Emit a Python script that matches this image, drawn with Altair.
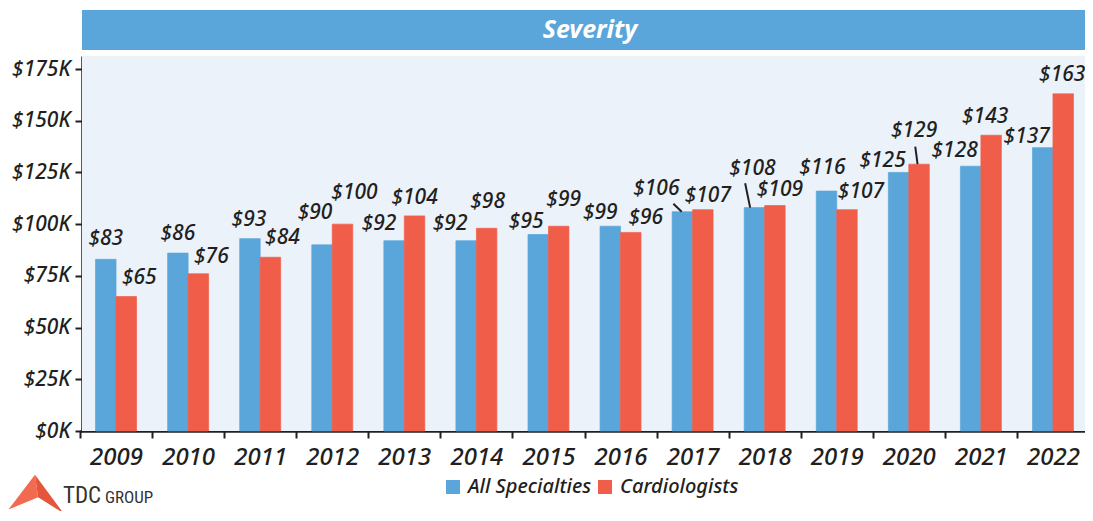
import altair as alt
import pandas as pd

# ---- data ----
years = ["2009", "2010", "2011", "2012", "2013", "2014", "2015",
         "2016", "2017", "2018", "2019", "2020", "2021", "2022"]
all_specialties = [83, 86, 93, 90, 92, 92, 95, 99, 106, 108, 116, 125, 128, 137]
cardiologists = [65, 76, 84, 100, 104, 98, 99, 96, 107, 109, 107, 129, 143, 163]
series_names = ["All Specialties", "Cardiologists"]
y_ticks = [0, 25, 50, 75, 100, 125, 150, 175]

# ---- label nudges (pixels, relative to bar centre / bar top) ----
all_dx = [0, 0, -1, -7, -15, -16, -12, -10, -26, -2, -4, -16, -16, -16]
all_dy = [-20, -19, -19, -32, -17, -17, -13, -13, -23, -39, -23, -11, -15, -11]
car_dx = [13, 13, 12, 12, 0, 1, 5, 15, 5, 5, 14, -5, -6, -1]
car_dy = [-19, -17, -19, -31, -18, -26, -26, -14, -14, -16, -18, -33, -18, -19]
# leader lines from bar top to label (symbol path, 1 unit = 30 px), "" = none
all_leader = ["", "", "", "", "", "", "", "",
              "M -0.023 0 L -0.3 -0.267", "M -0.143 0 L -0.31 -0.81",
              "", "", "", ""]
car_leader = ["", "", "", "", "", "", "", "", "", "", "",
              "M -0.05 0 L -0.127 -0.587", "", ""]

rows = []
for i, y in enumerate(years):
    rows.append(dict(Year=y, Series=series_names[0], Value=all_specialties[i],
                     ldx=all_dx[i], ldy=all_dy[i], leader=all_leader[i]))
    rows.append(dict(Year=y, Series=series_names[1], Value=cardiologists[i],
                     ldx=car_dx[i], ldy=car_dy[i], leader=car_leader[i]))
df = pd.DataFrame(rows)

FONT = "Noto Sans"
WEIGHT = 500
DARK = "#231F20"
BLUE = "#5AA6DA"
RED = "#F05E4A"
BG = "#EBF2FA"
W, H = 1003, 375

base = alt.Chart(df)

x_enc = alt.X("Year:N", sort=years,
              scale=alt.Scale(paddingInner=0, paddingOuter=0, range=[-2, 1007]),
              axis=alt.Axis(title=None, labelAngle=0, tickBand="extent",
                            domainColor=DARK, domainWidth=2.5,
                            tickColor=DARK, tickWidth=2, tickSize=7,
                            labelFont=FONT, labelFontSize=24, labelFontStyle="italic",
                            labelFontWeight=WEIGHT, labelColor=DARK, labelPadding=7))
xo_enc = alt.XOffset("Series:N", sort=series_names,
                     scale=alt.Scale(paddingInner=0, paddingOuter=0.76))
y_enc = alt.Y("Value:Q",
              scale=alt.Scale(domain=[0, 181.3], nice=False, zero=True),
              axis=alt.Axis(title=None, values=y_ticks, grid=False,
                            labelExpr="'$' + datum.value + 'K'",
                            domainColor=DARK, domainWidth=2.5,
                            tickColor=DARK, tickWidth=2, tickSize=7,
                            labelFont=FONT, labelFontSize=21, labelFontStyle="italic",
                            labelFontWeight=WEIGHT, labelColor=DARK, labelPadding=5))

one = pd.DataFrame({"a": [0]})

bg = alt.Chart(one).mark_rect(color=BG).encode(
    x=alt.value(0), x2=alt.value(W), y=alt.value(0), y2=alt.value(H))

title_bar = alt.Chart(one).mark_rect(color=BLUE).encode(
    x=alt.value(0), x2=alt.value(W), y=alt.value(-46), y2=alt.value(-6))
title_txt = alt.Chart(one).mark_text(
    text="Severity", font=FONT, fontSize=25, fontStyle="italic", fontWeight="bold",
    color="white", baseline="middle", align="center").encode(
    x=alt.value(508), y=alt.value(-26))

color_scale = alt.Scale(domain=series_names, range=[BLUE, RED])
bars = base.mark_bar(strokeWidth=0.7).encode(
    x=x_enc, xOffset=xo_enc, y=y_enc,
    stroke=alt.Stroke("Series:N", sort=series_names, scale=color_scale, legend=None),
    color=alt.Color("Series:N", sort=series_names, scale=color_scale,
                    legend=alt.Legend(title=None, orient="none", legendX=361, legendY=421,
                                      direction="horizontal", symbolType="square",
                                      symbolSize=196, symbolStrokeWidth=0,
                                      labelFont=FONT, labelFontSize=20,
                                      labelFontStyle="italic", labelFontWeight=WEIGHT,
                                      labelColor=DARK,
                                      columnPadding=3, padding=0, labelOffset=5)))

labels = base.transform_calculate(lbl="'$' + datum.Value").mark_text(
    font=FONT, fontSize=21, fontStyle="italic", fontWeight=WEIGHT, color=DARK,
    align="center", baseline="middle",
    dx=alt.ExprRef(expr="datum.ldx"), dy=alt.ExprRef(expr="datum.ldy")).encode(
    x=alt.X("Year:N", sort=years), xOffset=alt.XOffset("Series:N", sort=series_names),
    y="Value:Q", text="lbl:N")

leaders = base.transform_filter("datum.leader != ''").mark_point(
    filled=False, size=3600, stroke=DARK, strokeWidth=2, opacity=1).encode(
    x=alt.X("Year:N", sort=years), xOffset=alt.XOffset("Series:N", sort=series_names),
    y="Value:Q", shape=alt.Shape("leader:N", scale=None, legend=None))

# ---- logo ----
left_wing = "M -0.038 -0.70 L -1 0.56 L 0.077 0.12 Z"
right_wing = "M -0.038 -0.70 L 0.077 0.12 L 1 0.70 Z"
logo_l = alt.Chart(one).mark_point(shape=left_wing, filled=True, size=3025,
                                   color="#F26B50", opacity=1, strokeWidth=0).encode(
    x=alt.value(36 - 82), y=alt.value(494 - 56))
logo_r = alt.Chart(one).mark_point(shape=right_wing, filled=True, size=3025,
                                   color="#E4553B", opacity=1, strokeWidth=0).encode(
    x=alt.value(36 - 82), y=alt.value(494 - 56))
LOGO_FONT = "Liberation Sans Narrow, Roboto Condensed, Roboto, sans-serif"
logo_t1 = alt.Chart(one).mark_text(text="TDC", font=LOGO_FONT, fontSize=23,
                                   color="#333333", align="left", baseline="alphabetic").encode(
    x=alt.value(63 - 82), y=alt.value(503 - 56))
logo_t2 = alt.Chart(one).mark_text(text="GROUP", font=LOGO_FONT, fontSize=17,
                                   color="#333333", align="left", baseline="alphabetic").encode(
    x=alt.value(105 - 82), y=alt.value(503 - 56))

chart = alt.layer(bg, title_bar, title_txt, bars, leaders, labels,
                  logo_l, logo_r, logo_t1, logo_t2).properties(
    width=W, height=H,
    autosize=alt.AutoSizeParams(type="none"),
    padding={"left": 74, "top": 48, "right": 0, "bottom": 80},
).configure_view(stroke=None).configure(background="white")

chart.save("out.html", embed_options={"renderer": "svg", "actions": False})
